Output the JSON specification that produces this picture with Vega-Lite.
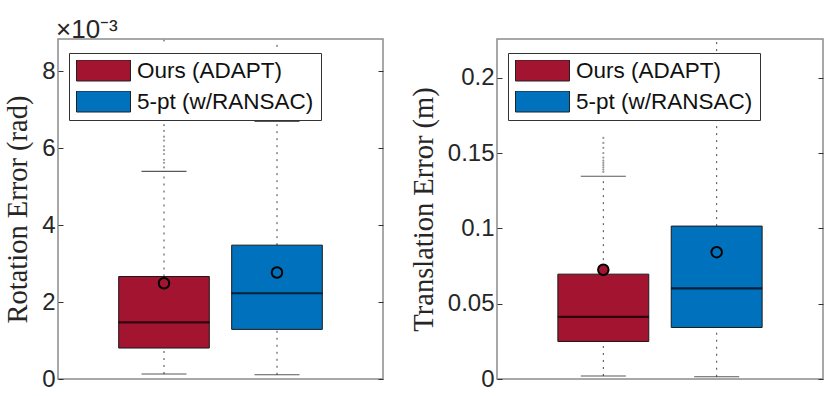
{
  "$schema": "https://vega.github.io/schema/vega-lite/v6.json",
  "padding": {"left": 2, "top": 16, "right": 5, "bottom": 12},
  "datasets": {
    "rotStats": [
      {"method": "Ours (ADAPT)", "lo": 0.00013, "q1": 0.000805, "med": 0.00147, "q3": 0.002665, "hi": 0.0054, "mean": 0.00249},
      {"method": "5-pt (w/RANSAC)", "lo": 0.00011, "q1": 0.00129, "med": 0.00223, "q3": 0.00348, "hi": 0.0067, "mean": 0.00277}
    ],
    "rotOut": [
      {"method": "Ours (ADAPT)", "v": 0.0055},
      {"method": "Ours (ADAPT)", "v": 0.00562},
      {"method": "Ours (ADAPT)", "v": 0.0057},
      {"method": "Ours (ADAPT)", "v": 0.00585},
      {"method": "Ours (ADAPT)", "v": 0.00595},
      {"method": "Ours (ADAPT)", "v": 0.00605},
      {"method": "Ours (ADAPT)", "v": 0.0062},
      {"method": "Ours (ADAPT)", "v": 0.0063},
      {"method": "Ours (ADAPT)", "v": 0.00645},
      {"method": "Ours (ADAPT)", "v": 0.0066},
      {"method": "Ours (ADAPT)", "v": 0.00675},
      {"method": "Ours (ADAPT)", "v": 0.0069},
      {"method": "Ours (ADAPT)", "v": 0.0071},
      {"method": "Ours (ADAPT)", "v": 0.0074},
      {"method": "Ours (ADAPT)", "v": 0.0078},
      {"method": "Ours (ADAPT)", "v": 0.0082},
      {"method": "Ours (ADAPT)", "v": 0.0088},
      {"method": "5-pt (w/RANSAC)", "v": 0.0071},
      {"method": "5-pt (w/RANSAC)", "v": 0.0076},
      {"method": "5-pt (w/RANSAC)", "v": 0.0081},
      {"method": "5-pt (w/RANSAC)", "v": 0.00866}
    ],
    "transStats": [
      {"method": "Ours (ADAPT)", "lo": 0.002, "q1": 0.0249, "med": 0.0413, "q3": 0.0696, "hi": 0.1346, "mean": 0.0725},
      {"method": "5-pt (w/RANSAC)", "lo": 0.0015, "q1": 0.0342, "med": 0.0601, "q3": 0.1015, "hi": 0.24, "mean": 0.0842}
    ],
    "transOut": [
      {"method": "Ours (ADAPT)", "v": 0.1375},
      {"method": "Ours (ADAPT)", "v": 0.139},
      {"method": "Ours (ADAPT)", "v": 0.1405},
      {"method": "Ours (ADAPT)", "v": 0.142},
      {"method": "Ours (ADAPT)", "v": 0.1435},
      {"method": "Ours (ADAPT)", "v": 0.145},
      {"method": "Ours (ADAPT)", "v": 0.147},
      {"method": "Ours (ADAPT)", "v": 0.15},
      {"method": "Ours (ADAPT)", "v": 0.1535},
      {"method": "Ours (ADAPT)", "v": 0.1567},
      {"method": "Ours (ADAPT)", "v": 0.16},
      {"method": "Ours (ADAPT)", "v": 0.172}
    ]
  },
  "config": {
    "view": {"stroke": "#8c8c8c", "strokeWidth": 1.5},
    "axis": {
      "labelFont": "Liberation Sans", "labelFontSize": 24, "labelColor": "#262626",
      "titleFont": "Liberation Serif", "titleFontSize": 28.5, "titleFontWeight": "normal", "titleColor": "#262626",
      "grid": false, "domain": false, "tickColor": "#333333", "tickSize": -5, "tickWidth": 1, "labelPadding": 8, "titlePadding": 9
    },
    "legend": {
      "orient": "none", "legendX": 11, "legendY": 14,
      "fillColor": "white", "strokeColor": "#333333", "padding": 7, "rowPadding": 8, "cornerRadius": 0,
      "symbolType": "M-1,-0.3889H1V0.3889H-1Z", "symbolSize": 2916, "clipHeight": 21,
      "symbolStrokeColor": "#222222", "symbolStrokeWidth": 1, "symbolOpacity": 1,
      "labelFont": "Liberation Sans", "labelFontSize": 22.5, "labelColor": "#111111", "labelOffset": 6, "labelLimit": 400
    },
    "title": {"font": "Liberation Sans", "fontSize": 26, "fontWeight": "normal", "color": "#262626", "anchor": "start", "frame": "group", "offset": 0}
  },
  "bounds": "flush",
  "spacing": 114,
  "resolve": {"scale": {"y": "independent", "x": "independent", "color": "independent", "fill": "independent"}, "legend": {"color": "independent"}},
  "hconcat": [
    {
      "width": 325, "height": 340,
      "title": {"text": "×10⁻³", "dx": -2, "dy": 8},
      "resolve": {"axis": {"y": "independent"}},
      "layer": [
        {
          "data": {"name": "rotStats"},
          "mark": {"type": "rule", "strokeDash": [2, 5], "color": "#444444", "clip": true},
          "encoding": {
            "x": {"field": "method", "type": "nominal", "scale": {"domain": ["Ours (ADAPT)", "5-pt (w/RANSAC)"], "paddingInner": 0.198, "paddingOuter": 0.537}, "axis": null},
            "y": {"field": "q3", "type": "quantitative", "scale": {"domain": [0, 0.00884], "nice": false}, "axis": {"title": "Rotation Error (rad)", "values": [0, 0.002, 0.004, 0.006, 0.008], "labelExpr": "format(datum.value*1000, 'd')"}},
            "y2": {"field": "hi"}
          }
        },
        {
          "data": {"name": "rotStats"},
          "mark": {"type": "rule", "strokeDash": [2, 5], "color": "#444444", "clip": true},
          "encoding": {
            "x": {"field": "method", "type": "nominal", "axis": null},
            "y": {"field": "lo", "type": "quantitative", "axis": null},
            "y2": {"field": "q1"}
          }
        },
        {
          "data": {"name": "rotStats"},
          "mark": {"type": "tick", "orient": "horizontal", "size": 45, "thickness": 1.2, "color": "#111111", "clip": true},
          "encoding": {
            "x": {"field": "method", "type": "nominal", "axis": null},
            "y": {"field": "hi", "type": "quantitative", "axis": null}
          }
        },
        {
          "data": {"name": "rotStats"},
          "mark": {"type": "tick", "orient": "horizontal", "size": 45, "thickness": 1.2, "color": "#111111", "clip": true},
          "encoding": {
            "x": {"field": "method", "type": "nominal", "axis": null},
            "y": {"field": "lo", "type": "quantitative", "axis": null}
          }
        },
        {
          "data": {"name": "rotOut"},
          "mark": {"type": "point", "filled": true, "size": 5, "color": "#999999", "opacity": 1, "clip": true},
          "encoding": {
            "x": {"field": "method", "type": "nominal", "axis": null},
            "y": {"field": "v", "type": "quantitative", "axis": null}
          }
        },
        {
          "data": {"name": "rotStats"},
          "mark": {"type": "bar", "stroke": "#1a1a1a", "strokeWidth": 1, "opacity": 1},
          "encoding": {
            "x": {"field": "method", "type": "nominal", "axis": null},
            "y": {"field": "q1", "type": "quantitative", "axis": null},
            "y2": {"field": "q3"},
            "color": {"field": "method", "type": "nominal", "scale": {"domain": ["Ours (ADAPT)", "5-pt (w/RANSAC)"], "range": ["#A2142F", "#0072BD"]}, "legend": {"title": null}}
          }
        },
        {
          "data": {"name": "rotStats"},
          "mark": {"type": "tick", "orient": "horizontal", "size": 91, "thickness": 2.2, "color": "#000000"},
          "encoding": {
            "x": {"field": "method", "type": "nominal", "axis": null},
            "y": {"field": "med", "type": "quantitative", "axis": {"orient": "right", "title": null, "labels": false, "values": [0, 0.002, 0.004, 0.006, 0.008]}}
          }
        },
        {
          "data": {"name": "rotStats"},
          "mark": {"type": "point", "shape": "circle", "filled": false, "size": 110, "strokeWidth": 2, "stroke": "#000000", "opacity": 1},
          "encoding": {
            "x": {"field": "method", "type": "nominal", "axis": null},
            "y": {"field": "mean", "type": "quantitative", "axis": null},
            "fill": {"field": "method", "type": "nominal", "scale": {"domain": ["Ours (ADAPT)", "5-pt (w/RANSAC)"], "range": ["#A2142F", "#0072BD"]}, "legend": null}
          }
        }
      ]
    },
    {
      "width": 326, "height": 340,
      "resolve": {"axis": {"y": "independent"}},
      "layer": [
        {
          "data": {"name": "transStats"},
          "mark": {"type": "rule", "strokeDash": [2, 5], "color": "#444444", "clip": true},
          "encoding": {
            "x": {"field": "method", "type": "nominal", "scale": {"domain": ["Ours (ADAPT)", "5-pt (w/RANSAC)"], "paddingInner": 0.198, "paddingOuter": 0.537}, "axis": null},
            "y": {"field": "q3", "type": "quantitative", "scale": {"domain": [0, 0.2257], "nice": false}, "axis": {"title": "Translation Error (m)", "values": [0, 0.05, 0.1, 0.15, 0.2], "format": "~g"}},
            "y2": {"field": "hi"}
          }
        },
        {
          "data": {"name": "transStats"},
          "mark": {"type": "rule", "strokeDash": [2, 5], "color": "#444444", "clip": true},
          "encoding": {
            "x": {"field": "method", "type": "nominal", "axis": null},
            "y": {"field": "lo", "type": "quantitative", "axis": null},
            "y2": {"field": "q1"}
          }
        },
        {
          "data": {"name": "transStats"},
          "mark": {"type": "tick", "orient": "horizontal", "size": 45, "thickness": 1.2, "color": "#111111", "clip": true},
          "encoding": {
            "x": {"field": "method", "type": "nominal", "axis": null},
            "y": {"field": "hi", "type": "quantitative", "axis": null}
          }
        },
        {
          "data": {"name": "transStats"},
          "mark": {"type": "tick", "orient": "horizontal", "size": 45, "thickness": 1.2, "color": "#111111", "clip": true},
          "encoding": {
            "x": {"field": "method", "type": "nominal", "axis": null},
            "y": {"field": "lo", "type": "quantitative", "axis": null}
          }
        },
        {
          "data": {"name": "transOut"},
          "mark": {"type": "point", "filled": true, "size": 5, "color": "#999999", "opacity": 1, "clip": true},
          "encoding": {
            "x": {"field": "method", "type": "nominal", "axis": null},
            "y": {"field": "v", "type": "quantitative", "axis": null}
          }
        },
        {
          "data": {"name": "transStats"},
          "mark": {"type": "bar", "stroke": "#1a1a1a", "strokeWidth": 1, "opacity": 1},
          "encoding": {
            "x": {"field": "method", "type": "nominal", "axis": null},
            "y": {"field": "q1", "type": "quantitative", "axis": null},
            "y2": {"field": "q3"},
            "color": {"field": "method", "type": "nominal", "scale": {"domain": ["Ours (ADAPT)", "5-pt (w/RANSAC)"], "range": ["#A2142F", "#0072BD"]}, "legend": {"title": null}}
          }
        },
        {
          "data": {"name": "transStats"},
          "mark": {"type": "tick", "orient": "horizontal", "size": 91, "thickness": 2.2, "color": "#000000"},
          "encoding": {
            "x": {"field": "method", "type": "nominal", "axis": null},
            "y": {"field": "med", "type": "quantitative", "axis": {"orient": "right", "title": null, "labels": false, "values": [0, 0.05, 0.1, 0.15, 0.2]}}
          }
        },
        {
          "data": {"name": "transStats"},
          "mark": {"type": "point", "shape": "circle", "filled": false, "size": 110, "strokeWidth": 2, "stroke": "#000000", "opacity": 1},
          "encoding": {
            "x": {"field": "method", "type": "nominal", "axis": null},
            "y": {"field": "mean", "type": "quantitative", "axis": null},
            "fill": {"field": "method", "type": "nominal", "scale": {"domain": ["Ours (ADAPT)", "5-pt (w/RANSAC)"], "range": ["#A2142F", "#0072BD"]}, "legend": null}
          }
        }
      ]
    }
  ]
}
